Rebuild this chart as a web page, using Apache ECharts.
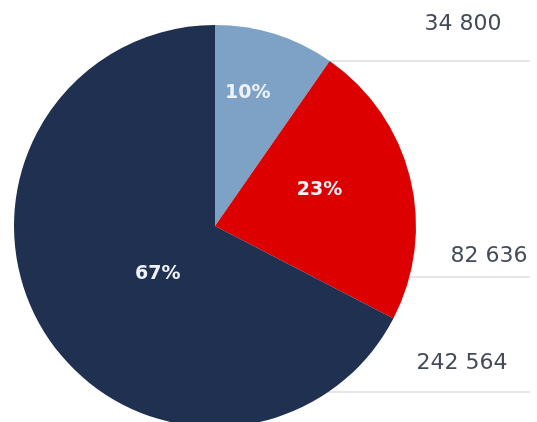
<!DOCTYPE html>
<html>
<head>
<meta charset="utf-8">
<script src="https://cdn.jsdelivr.net/npm/echarts@6/dist/echarts.min.js"></script>
<style>
  html, body { margin: 0; padding: 0; background: #ffffff; }
  #chart { width: 537px; height: 422px; }
</style>
</head>
<body>
<div id="chart"></div>
<script>
// Slice data, clockwise from twelve o'clock
const categories = ['Segment A', 'Segment B', 'Segment C'];
const values = [34800, 82636, 242564];
const colors = ['#7ea2c6', '#dc0000', '#1f3051'];

// Pie geometry (px)
const CX = 215, CY = 226, R = 201;

// Percentage labels: distance from centre (fraction of R) and angular nudge (deg)
const pctPlace = [
  { r: 0.68, turn: -3.5 },
  { r: 0.55, turn: -5 },
  { r: 0.37, turn: -8.5 }
];
// Value captions on the right: text centre and underline height
const captionPos = [
  { x: 463, y: 24, lineY: 61 },
  { x: 489, y: 256, lineY: 277 },
  { x: 462, y: 363, lineY: 392 }
];
const lineEndX = 530;

function withSpaces(v) {
  return String(v).replace(/\B(?=(\d{3})+(?!\d))/g, ' ');
}

const data = categories.map((name, i) => ({
  name: name,
  value: values[i],
  itemStyle: { color: colors[i] }
}));

const chart = echarts.init(document.getElementById('chart'), null, { renderer: 'canvas' });

chart.setOption({
  animation: false,
  backgroundColor: '#ffffff',
  series: [
    {
      // value captions with underlines
      type: 'pie',
      silent: true,
      z: 1,
      center: [CX, CY],
      radius: R,
      startAngle: 90,
      clockwise: true,
      data: categories.map((name, i) => ({ name: name, value: values[i] })),
      itemStyle: { color: 'rgba(0,0,0,0)' },
      label: {
        show: true,
        position: 'outside',
        overflow: 'none',
        width: 200,
        formatter: p => withSpaces(p.value),
        fontFamily: 'DejaVu Sans',
        fontSize: 22,
        color: '#434a58'
      },
      labelLine: {
        show: true,
        length: 10,
        length2: 10,
        lineStyle: { color: '#c9cdd5', width: 1.2 }
      },
      labelLayout: function (params) {
        const pos = captionPos[params.dataIndex];
        const dy = pos.lineY - CY;
        const startX = CX + Math.sqrt(Math.max(R * R - dy * dy, 0));
        return {
          x: pos.x,
          y: pos.y,
          align: 'center',
          verticalAlign: 'middle',
          hideOverlap: false,
          labelLinePoints: [
            [startX, pos.lineY],
            [startX, pos.lineY],
            [lineEndX, pos.lineY]
          ]
        };
      }
    },
    {
      // coloured slices with percentage labels
      type: 'pie',
      silent: true,
      z: 2,
      center: [CX, CY],
      radius: R,
      startAngle: 90,
      clockwise: true,
      data: data,
      itemStyle: { borderWidth: 0 },
      label: {
        show: true,
        position: 'inside',
        formatter: p => Math.round(p.percent) + '%',
        fontFamily: 'DejaVu Sans',
        fontWeight: 'bold',
        fontSize: 19,
        color: '#eef2f8'
      },
      labelLine: { show: false },
      labelLayout: function (params) {
        const rect = params.labelRect;
        const dx = rect.x + rect.width / 2 - CX;
        const dy = rect.y + rect.height / 2 - CY;
        const place = pctPlace[params.dataIndex];
        const theta = Math.atan2(dx, -dy) + place.turn * Math.PI / 180;
        const dist = R * place.r;
        return {
          x: CX + dist * Math.sin(theta),
          y: CY - dist * Math.cos(theta),
          align: 'center',
          verticalAlign: 'middle'
        };
      }
    }
  ]
});
</script>
</body>
</html>
